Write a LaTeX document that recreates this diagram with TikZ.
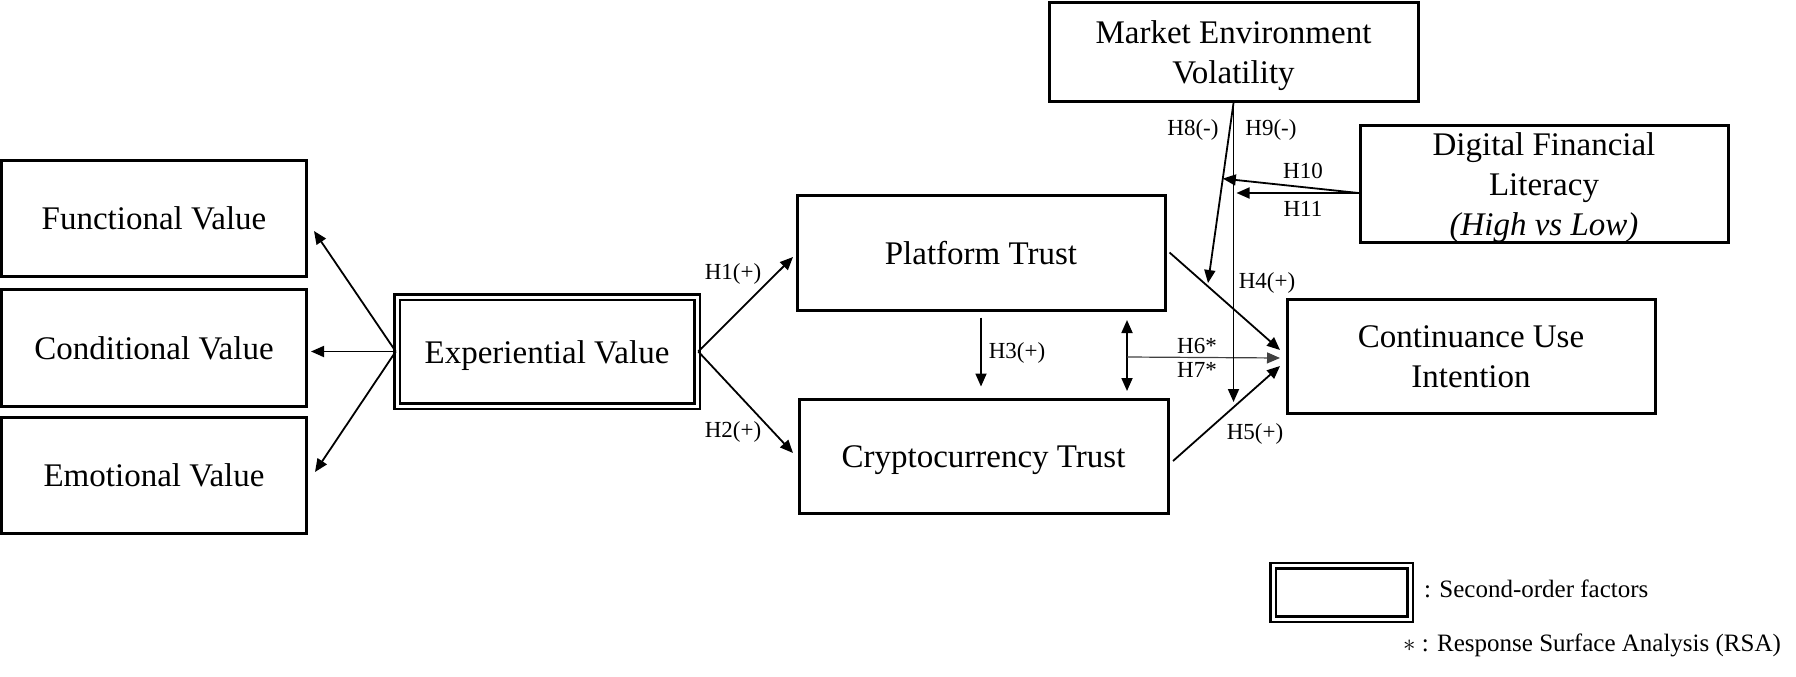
\documentclass[tikz,border=0pt]{standalone}
\usepackage{fontspec}
\setmainfont{Liberation Serif}
\usetikzlibrary{arrows.meta,calc}
\begin{document}
\begin{tikzpicture}[x=1pt,y=-1pt,
  box/.style={draw,line width=3pt,inner sep=0pt,align=center,font=\fontsize{33}{40}\selectfont,text height=30pt,text depth=7pt},
  two/.style={text height=70pt,text depth=7pt},
  three/.style={text height=110pt,text depth=7pt},
  dbox/.style={box,line width=2.5pt,double,double distance=3pt},
  lab/.style={inner sep=0pt,font=\fontsize{23}{27}\selectfont},
  leg/.style={inner sep=0pt,anchor=west,font=\fontsize{25}{30}\selectfont},
  tip/.style={-{Triangle[length=13pt,width=11pt]}},
  arr/.style={line width=1.8pt,tip},
  thinarr/.style={line width=1.2pt,draw=black!75,tip},
  dblarr/.style={line width=1.8pt,{Triangle[length=13pt,width=11pt]}-{Triangle[length=13pt,width=11pt]}}
]
\useasboundingbox (0,0) rectangle (1796,677);

% nodes
\node[box,minimum width=305pt,minimum height=116pt] (func) at (154,218) {Functional Value};
\node[box,minimum width=305pt,minimum height=117pt] (cond) at (154,347.5) {Conditional Value};
\node[box,minimum width=305pt,minimum height=116pt] (emo) at (154,475) {Emotional Value};
\node[dbox,minimum width=300pt,minimum height=109pt] (exp) at (547,351.5) {Experiential Value};
\node[box,minimum width=368pt,minimum height=115pt] (plat) at (981,252.5) {Platform Trust};
\node[box,minimum width=369pt,minimum height=114pt] (crypto) at (983.5,456) {Cryptocurrency Trust};
\node[box,two,minimum width=369pt,minimum height=99pt] (market) at (1233.5,52) {Market Environment\\Volatility};
\node[box,three,minimum width=368pt,minimum height=117pt] (digital) at (1544,183.5) {Digital Financial\\Literacy\\\textit{(High vs Low)}};
\node[box,two,minimum width=368pt,minimum height=114pt] (cont) at (1471,356) {Continuance Use\\Intention};

% legend
\node[dbox,minimum width=137pt,minimum height=53.5pt,text height=0pt,text depth=0pt] (legbox) at (1341.5,592.5) {};
\node[leg] (legtext) at (1424,589) {: Second-order factors};
\node[leg] (rsatext) at (1403,645) {$\ast$\ : Response Surface Analysis (RSA)};

% helper coordinates
\coordinate (rsatop) at (1127,320);
\coordinate (rsabot) at (1127,391);
\coordinate (rsamid) at (1127,357);
\coordinate (h8tip) at (1208,283);
\coordinate (h9tip) at (1233.5,402);
\coordinate (dlit) at ($(digital.west)+(0,9.5)$);

% second-order arrows
\draw[arr] (exp.west) -- ($(func.east)+(6,13)$);
\draw[arr] (exp.west) -- ($(cond.east)+(3,4)$);
\draw[arr] (exp.west) -- ($(emo.east)+(7,-3)$);

% H1, H2
\draw[arr] (exp.east) -- ($(plat.west)+(-2.5,4.5)$);
\draw[arr] (exp.east) -- ($(crypto.west)+(-4.5,-3)$);

% H3
\draw[arr] ($(plat.south)+(0,6)$) -- ($(plat.south |- crypto.north)+(0,-11)$);

% H6/H7
\draw[dblarr] (rsatop) -- (rsabot);
\draw[thinarr] (rsamid) -- ($(cont.west)+(-5.5,2)$);

% H4, H5
\draw[arr] ($(plat.east)+(3,0)$) -- ($(cont.west)+(-5.5,-6)$);
\draw[arr] ($(crypto.east)+(3.5,5)$) -- ($(cont.west)+(-5.5,10)$);

% H8, H9
\draw[arr] (market.south) -- (h8tip);
\draw[arr] (market.south) -- (h9tip);

% H10, H11
\draw[arr] (dlit) -- ($(market.south)!0.42!(h8tip)$);
\draw[arr] (dlit) -- ($(market.south |- dlit)+(3,0)$);

% labels
\node[lab] (l1) at (733,274) {H1(+)};
\node[lab] (l2) at (733,432) {H2(+)};
\node[lab] (l3) at (1017,353) {H3(+)};
\node[lab] (l4) at (1267,283) {H4(+)};
\node[lab] (l5) at (1255,434) {H5(+)};
\node[lab] (l6) at (1197,346) {H6*};
\node[lab] (l7) at (1197,370) {H7*};
\node[lab] (l8) at (1193,130) {H8(-)};
\node[lab] (l9) at (1271,130) {H9(-)};
\node[lab] (l10) at (1303,171) {H10};
\node[lab] (l11) at (1303,209) {H11};
\end{tikzpicture}
\end{document}
